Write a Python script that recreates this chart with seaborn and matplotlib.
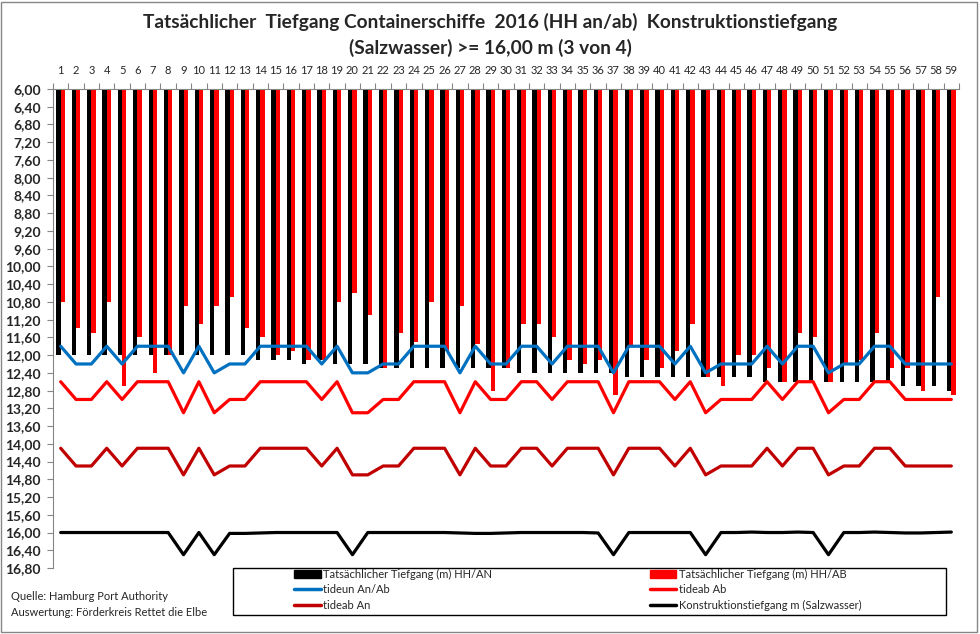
import numpy as np
import pandas as pd
import seaborn as sns
import matplotlib.pyplot as plt
from matplotlib.patches import Patch, Rectangle
from matplotlib.lines import Line2D

# Daten
nr = [str(i) for i in range(1, 60)]

tiefgang_an = [12.0, 12.0, 12.0, 12.0, 12.0, 12.0, 12.0, 12.0, 12.0, 12.0,
               12.0, 12.0, 12.0, 12.1, 12.1, 12.1, 12.2, 12.1, 12.2, 12.2,
               12.2, 12.3, 12.3, 12.3, 12.3, 12.3, 12.3, 12.3, 12.3, 12.3,
               12.4, 12.4, 12.4, 12.4, 12.4, 12.4, 12.4, 12.5, 12.5, 12.5,
               12.5, 12.5, 12.5, 12.5, 12.5, 12.5, 12.6, 12.6, 12.6, 12.6,
               12.6, 12.6, 12.6, 12.6, 12.6, 12.7, 12.7, 12.7, 12.8]

tiefgang_ab = [10.8, 11.4, 11.5, 10.8, 12.7, 11.6, 12.4, 12.0, 10.9, 11.3,
               10.9, 10.7, 11.4, 11.6, 12.0, 11.9, 12.1, 12.1, 10.8, 10.6,
               11.1, 12.3, 11.5, 11.7, 10.8, 11.9, 10.9, 11.75, 12.8, 12.3,
               11.3, 11.3, 11.6, 12.1, 12.2, 12.1, 12.9, 11.8, 12.1, 12.3,
               11.9, 11.3, 12.5, 12.7, 12.0, 12.0, 12.3, 12.6, 11.5, 11.6,
               12.6, 12.2, 12.1, 11.5, 12.3, 12.3, 12.8, 10.7, 12.9]

tideun = [11.8, 12.2, 12.2, 11.8, 12.2, 11.8, 11.8, 11.8, 12.4, 11.8,
          12.4, 12.2, 12.2, 11.8, 11.8, 11.8, 11.8, 12.2, 11.8, 12.4,
          12.4, 12.2, 12.2, 11.8, 11.8, 11.8, 12.4, 11.8, 12.2, 12.2,
          11.8, 11.8, 12.2, 11.8, 11.8, 11.8, 12.4, 11.8, 11.8, 11.8,
          12.2, 11.8, 12.4, 12.2, 12.2, 12.2, 11.8, 12.2, 11.8, 11.8,
          12.4, 12.2, 12.2, 11.8, 11.8, 12.2, 12.2, 12.2, 12.2]

tideab_ab = [12.6, 13.0, 13.0, 12.6, 13.0, 12.6, 12.6, 12.6, 13.3, 12.6,
             13.3, 13.0, 13.0, 12.6, 12.6, 12.6, 12.6, 13.0, 12.6, 13.3,
             13.3, 13.0, 13.0, 12.6, 12.6, 12.6, 13.3, 12.6, 13.0, 13.0,
             12.6, 12.6, 13.0, 12.6, 12.6, 12.6, 13.3, 12.6, 12.6, 12.6,
             13.0, 12.6, 13.3, 13.0, 13.0, 13.0, 12.6, 13.0, 12.6, 12.6,
             13.3, 13.0, 13.0, 12.6, 12.6, 13.0, 13.0, 13.0, 13.0]

tideab_an = [14.1, 14.5, 14.5, 14.1, 14.5, 14.1, 14.1, 14.1, 14.7, 14.1,
             14.7, 14.5, 14.5, 14.1, 14.1, 14.1, 14.1, 14.5, 14.1, 14.7,
             14.7, 14.5, 14.5, 14.1, 14.1, 14.1, 14.7, 14.1, 14.5, 14.5,
             14.1, 14.1, 14.5, 14.1, 14.1, 14.1, 14.7, 14.1, 14.1, 14.1,
             14.5, 14.1, 14.7, 14.5, 14.5, 14.5, 14.1, 14.5, 14.1, 14.1,
             14.7, 14.5, 14.5, 14.1, 14.1, 14.5, 14.5, 14.5, 14.5]

konstruktion = [16.0, 16.0, 16.0, 16.0, 16.0, 16.0, 16.0, 16.0, 16.5, 16.0,
                16.5, 16.02, 16.02, 16.01, 16.0, 16.0, 16.0, 16.0, 16.0, 16.5,
                16.0, 16.0, 16.0, 16.0, 16.0, 16.0, 16.01, 16.02, 16.02, 16.01,
                16.0, 16.0, 16.0, 16.0, 16.0, 16.01, 16.5, 16.0, 16.0, 16.0,
                16.0, 16.0, 16.5, 16.0, 16.0, 15.99, 16.0, 16.0, 15.99, 16.0,
                16.5, 16.0, 16.0, 15.99, 16.0, 16.01, 16.01, 16.0, 15.99]

lab_an = 'Tatsächlicher Tiefgang (m) HH/AN'
lab_ab = 'Tatsächlicher Tiefgang (m) HH/AB'

df = pd.DataFrame({
    'Nr': nr + nr,
    'Tiefgang': tiefgang_an + tiefgang_ab,
    'Serie': [lab_an] * len(nr) + [lab_ab] * len(nr),
})

blau = '#0070C0'
rot = '#FF0000'
dunkelrot = '#C00000'

sns.set_style('white')
plt.rcParams['font.family'] = ['Lato', 'DejaVu Sans']

fig = plt.figure(figsize=(9.8, 6.34), dpi=100)
ax = fig.add_axes([53 / 980, 1 - 568 / 634, 906 / 980, 479 / 634])

# Balken (Achse umgekehrt, Balken hängen von oben)
sns.barplot(data=df, x='Nr', y='Tiefgang', hue='Serie', palette=['black', rot],
            width=0.56, saturation=1, errorbar=None, linewidth=0,
            legend=False, ax=ax)

pos = np.arange(len(nr))
sns.lineplot(x=pos, y=tideun, color=blau, linewidth=2.3, ax=ax)
sns.lineplot(x=pos, y=tideab_ab, color=rot, linewidth=2.3, ax=ax)
sns.lineplot(x=pos, y=tideab_an, color=dunkelrot, linewidth=2.3, ax=ax)
sns.lineplot(x=pos, y=konstruktion, color='black', linewidth=2.3, ax=ax)

ax.set_xlabel('')
ax.set_ylabel('')
ax.set_xlim(-0.5, len(nr) - 0.5)
ax.set_ylim(16.8, 6.0)

# y-Achse
yt = np.arange(6.0, 16.81, 0.4)
ax.set_yticks(yt)
ax.set_yticklabels(['{:.2f}'.format(v).replace('.', ',') for v in yt],
                   fontsize=10, fontweight='bold')
ax.tick_params(axis='y', left=True, length=4, width=0.8, color='#868686', pad=5)

# x-Achse oben
ax.xaxis.tick_top()
ax.set_xticks(pos)
ax.set_xticklabels(nr, fontsize=8)
ax.set_xticks(np.arange(-0.5, len(nr), 1), minor=True)
ax.tick_params(axis='x', which='major', length=0, pad=9, top=True, bottom=False)
ax.tick_params(axis='x', which='minor', length=4, width=0.8, color='#868686',
               top=True, bottom=False)

for s in ['right', 'bottom']:
    ax.spines[s].set_visible(False)
for s in ['left', 'top']:
    ax.spines[s].set_color('#868686')
    ax.spines[s].set_linewidth(0.8)

# Titel
fig.text(0.5, 1 - 22 / 634,
         'Tatsächlicher  Tiefgang Containerschiffe  2016 (HH an/ab)  Konstruktionstiefgang',
         ha='center', va='center', fontsize=13.8, fontweight='bold')
fig.text(0.5, 1 - 48 / 634, '(Salzwasser) >= 16,00 m (3 von 4)',
         ha='center', va='center', fontsize=13.8, fontweight='bold')

# Legende
handles = [Patch(color='black'),
           Line2D([], [], color=blau, lw=2.5),
           Line2D([], [], color=dunkelrot, lw=2.5),
           Patch(color=rot),
           Line2D([], [], color=rot, lw=2.5),
           Line2D([], [], color='black', lw=2.5)]
labels = [lab_an, 'tideun An/Ab', 'tideab An',
          lab_ab, 'tideab Ab', 'Konstruktionstiefgang m (Salzwasser)']
fig.legend(handles, labels, loc='upper left',
           bbox_to_anchor=(294 / 980, 1 - 569 / 634), ncol=2, frameon=False,
           fontsize=8, handlelength=2.4, handleheight=0.8, handletextpad=0.2,
           columnspacing=14.2, labelspacing=0.4, borderpad=0, borderaxespad=0)
fig.add_artist(Rectangle((233 / 980, 1 - 615 / 634), 713 / 980, 47 / 634,
                         transform=fig.transFigure, fill=False,
                         edgecolor='black', linewidth=1))

# Quelle
fig.text(11 / 980, 1 - 596 / 634, 'Quelle: Hamburg Port Authority',
         va='center', fontsize=8)
fig.text(11 / 980, 1 - 612 / 634, 'Auswertung: Förderkreis Rettet die Elbe',
         va='center', fontsize=8)

# Rahmen um das ganze Diagramm
fig.add_artist(Rectangle((1 / 980, 1 - 632 / 634), 976 / 980, 630 / 634,
                         transform=fig.transFigure, fill=False,
                         edgecolor='#868686', linewidth=1))

fig.savefig('out.png', dpi=100)
